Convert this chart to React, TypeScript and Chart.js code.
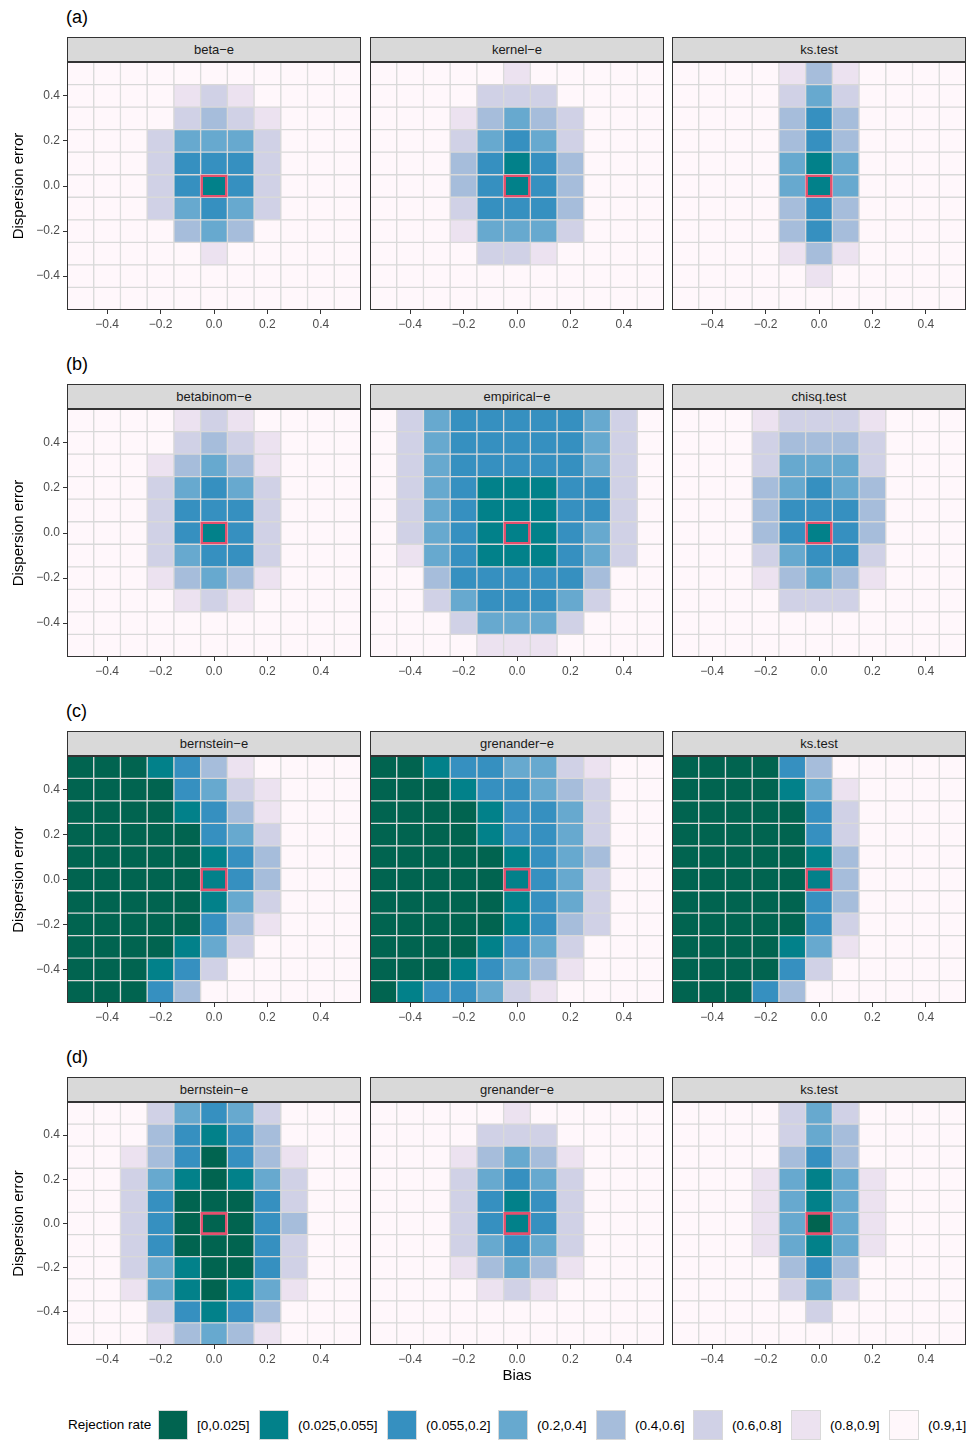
import React, { useEffect, useRef } from "react";
import { Chart, registerables } from "chart.js";

Chart.register(...registerables);

// ---------- data ----------
const BIAS = [-0.5, -0.4, -0.3, -0.2, -0.1, 0, 0.1, 0.2, 0.3, 0.4, 0.5];
// rows of each grid go from top (0.5) to bottom (-0.5)
const DISPERSION = [0.5, 0.4, 0.3, 0.2, 0.1, 0, -0.1, -0.2, -0.3, -0.4, -0.5];
const AXIS_TICKS = [-0.4, -0.2, 0, 0.2, 0.4];
const TRUE_BIAS = [0];
const TRUE_DISPERSION = [0];

const LEVELS = ["[0,0.025]", "(0.025,0.055]", "(0.055,0.2]", "(0.2,0.4]", "(0.4,0.6]", "(0.6,0.8]", "(0.8,0.9]", "(0.9,1]"];
const LEVEL_COLORS = ["#016450", "#02818a", "#3690c0", "#67a9cf", "#a6bddb", "#d0d1e6", "#ece2f0", "#fff7fb"];

const ROW_LABELS = ["(a)", "(b)", "(c)", "(d)"];
const PANEL_TITLES = [
  ["beta\u2212e", "kernel\u2212e", "ks.test"],
  ["betabinom\u2212e", "empirical\u2212e", "chisq.test"],
  ["bernstein\u2212e", "grenander\u2212e", "ks.test"],
  ["bernstein\u2212e", "grenander\u2212e", "ks.test"],
];

// level index per cell (0 = [0,0.025] ... 7 = (0.9,1])
const A_BETA_E = [
  [7, 7, 7, 7, 7, 7, 7, 7, 7, 7, 7],
  [7, 7, 7, 7, 6, 5, 6, 7, 7, 7, 7],
  [7, 7, 7, 7, 5, 4, 5, 6, 7, 7, 7],
  [7, 7, 7, 5, 3, 3, 3, 5, 7, 7, 7],
  [7, 7, 7, 5, 2, 2, 2, 5, 7, 7, 7],
  [7, 7, 7, 5, 2, 1, 2, 5, 7, 7, 7],
  [7, 7, 7, 5, 3, 2, 3, 5, 7, 7, 7],
  [7, 7, 7, 7, 4, 3, 4, 7, 7, 7, 7],
  [7, 7, 7, 7, 7, 6, 7, 7, 7, 7, 7],
  [7, 7, 7, 7, 7, 7, 7, 7, 7, 7, 7],
  [7, 7, 7, 7, 7, 7, 7, 7, 7, 7, 7],
];
const A_KERNEL_E = [
  [7, 7, 7, 7, 7, 6, 7, 7, 7, 7, 7],
  [7, 7, 7, 7, 5, 5, 5, 7, 7, 7, 7],
  [7, 7, 7, 6, 4, 3, 4, 5, 7, 7, 7],
  [7, 7, 7, 5, 3, 2, 3, 5, 7, 7, 7],
  [7, 7, 7, 4, 2, 1, 2, 4, 7, 7, 7],
  [7, 7, 7, 4, 2, 1, 2, 4, 7, 7, 7],
  [7, 7, 7, 5, 2, 2, 2, 4, 7, 7, 7],
  [7, 7, 7, 6, 3, 3, 3, 5, 7, 7, 7],
  [7, 7, 7, 7, 5, 5, 6, 7, 7, 7, 7],
  [7, 7, 7, 7, 7, 7, 7, 7, 7, 7, 7],
  [7, 7, 7, 7, 7, 7, 7, 7, 7, 7, 7],
];
const A_KS_TEST = [
  [7, 7, 7, 7, 6, 4, 6, 7, 7, 7, 7],
  [7, 7, 7, 7, 5, 3, 5, 7, 7, 7, 7],
  [7, 7, 7, 7, 4, 2, 4, 7, 7, 7, 7],
  [7, 7, 7, 7, 4, 2, 4, 7, 7, 7, 7],
  [7, 7, 7, 7, 3, 1, 3, 7, 7, 7, 7],
  [7, 7, 7, 7, 3, 1, 3, 7, 7, 7, 7],
  [7, 7, 7, 7, 4, 2, 4, 7, 7, 7, 7],
  [7, 7, 7, 7, 4, 2, 4, 7, 7, 7, 7],
  [7, 7, 7, 7, 6, 4, 6, 7, 7, 7, 7],
  [7, 7, 7, 7, 7, 6, 7, 7, 7, 7, 7],
  [7, 7, 7, 7, 7, 7, 7, 7, 7, 7, 7],
];
const B_BETABINOM_E = [
  [7, 7, 7, 7, 6, 5, 6, 7, 7, 7, 7],
  [7, 7, 7, 7, 5, 4, 5, 6, 7, 7, 7],
  [7, 7, 7, 6, 4, 3, 4, 6, 7, 7, 7],
  [7, 7, 7, 5, 3, 2, 3, 5, 7, 7, 7],
  [7, 7, 7, 5, 2, 2, 2, 5, 7, 7, 7],
  [7, 7, 7, 5, 2, 1, 2, 5, 7, 7, 7],
  [7, 7, 7, 5, 3, 2, 2, 5, 7, 7, 7],
  [7, 7, 7, 6, 4, 3, 4, 6, 7, 7, 7],
  [7, 7, 7, 7, 6, 5, 6, 7, 7, 7, 7],
  [7, 7, 7, 7, 7, 7, 7, 7, 7, 7, 7],
  [7, 7, 7, 7, 7, 7, 7, 7, 7, 7, 7],
];
const B_EMPIRICAL_E = [
  [7, 5, 3, 2, 2, 2, 2, 2, 3, 5, 7],
  [7, 5, 3, 2, 2, 2, 2, 2, 3, 5, 7],
  [7, 5, 3, 2, 2, 2, 2, 2, 3, 5, 7],
  [7, 5, 3, 2, 1, 1, 1, 2, 2, 5, 7],
  [7, 5, 3, 2, 1, 1, 1, 2, 2, 5, 7],
  [7, 5, 3, 2, 1, 1, 1, 2, 3, 5, 7],
  [7, 6, 3, 2, 1, 1, 1, 2, 3, 5, 7],
  [7, 7, 4, 2, 2, 2, 2, 2, 4, 7, 7],
  [7, 7, 5, 3, 2, 2, 2, 3, 5, 7, 7],
  [7, 7, 7, 5, 3, 3, 3, 5, 7, 7, 7],
  [7, 7, 7, 7, 6, 6, 6, 7, 7, 7, 7],
];
const B_CHISQ_TEST = [
  [7, 7, 7, 6, 5, 5, 5, 6, 7, 7, 7],
  [7, 7, 7, 5, 4, 4, 4, 5, 7, 7, 7],
  [7, 7, 7, 5, 3, 3, 3, 5, 7, 7, 7],
  [7, 7, 7, 4, 3, 2, 3, 4, 7, 7, 7],
  [7, 7, 7, 4, 2, 2, 2, 4, 7, 7, 7],
  [7, 7, 7, 4, 2, 1, 2, 4, 7, 7, 7],
  [7, 7, 7, 5, 3, 2, 2, 5, 7, 7, 7],
  [7, 7, 7, 6, 4, 3, 4, 6, 7, 7, 7],
  [7, 7, 7, 7, 5, 5, 5, 7, 7, 7, 7],
  [7, 7, 7, 7, 7, 7, 7, 7, 7, 7, 7],
  [7, 7, 7, 7, 7, 7, 7, 7, 7, 7, 7],
];
const C_BERNSTEIN_E = [
  [0, 0, 0, 1, 2, 4, 6, 7, 7, 7, 7],
  [0, 0, 0, 0, 2, 3, 5, 6, 7, 7, 7],
  [0, 0, 0, 0, 1, 2, 4, 6, 7, 7, 7],
  [0, 0, 0, 0, 0, 2, 3, 5, 7, 7, 7],
  [0, 0, 0, 0, 0, 1, 2, 4, 7, 7, 7],
  [0, 0, 0, 0, 0, 1, 2, 4, 7, 7, 7],
  [0, 0, 0, 0, 0, 1, 3, 5, 7, 7, 7],
  [0, 0, 0, 0, 0, 2, 4, 6, 7, 7, 7],
  [0, 0, 0, 0, 1, 3, 5, 7, 7, 7, 7],
  [0, 0, 0, 1, 2, 5, 7, 7, 7, 7, 7],
  [0, 0, 0, 2, 4, 7, 7, 7, 7, 7, 7],
];
const C_GRENANDER_E = [
  [0, 0, 1, 2, 2, 3, 3, 5, 6, 7, 7],
  [0, 0, 0, 1, 2, 2, 3, 4, 5, 7, 7],
  [0, 0, 0, 0, 1, 2, 2, 3, 5, 7, 7],
  [0, 0, 0, 0, 1, 2, 2, 3, 5, 7, 7],
  [0, 0, 0, 0, 0, 1, 2, 3, 4, 7, 7],
  [0, 0, 0, 0, 0, 1, 2, 3, 5, 7, 7],
  [0, 0, 0, 0, 0, 1, 2, 3, 5, 7, 7],
  [0, 0, 0, 0, 0, 1, 2, 4, 5, 7, 7],
  [0, 0, 0, 0, 1, 2, 3, 5, 7, 7, 7],
  [0, 0, 0, 1, 2, 3, 4, 6, 7, 7, 7],
  [0, 1, 2, 2, 3, 5, 6, 7, 7, 7, 7],
];
const C_KS_TEST = [
  [0, 0, 0, 0, 2, 4, 7, 7, 7, 7, 7],
  [0, 0, 0, 0, 1, 3, 6, 7, 7, 7, 7],
  [0, 0, 0, 0, 0, 2, 5, 7, 7, 7, 7],
  [0, 0, 0, 0, 0, 2, 5, 7, 7, 7, 7],
  [0, 0, 0, 0, 0, 1, 4, 7, 7, 7, 7],
  [0, 0, 0, 0, 0, 1, 4, 7, 7, 7, 7],
  [0, 0, 0, 0, 0, 2, 4, 7, 7, 7, 7],
  [0, 0, 0, 0, 0, 2, 5, 7, 7, 7, 7],
  [0, 0, 0, 0, 1, 3, 6, 7, 7, 7, 7],
  [0, 0, 0, 0, 2, 5, 7, 7, 7, 7, 7],
  [0, 0, 0, 2, 4, 7, 7, 7, 7, 7, 7],
];
const D_BERNSTEIN_E = [
  [7, 7, 7, 5, 3, 2, 3, 5, 7, 7, 7],
  [7, 7, 7, 4, 2, 1, 2, 4, 7, 7, 7],
  [7, 7, 6, 4, 2, 0, 2, 4, 6, 7, 7],
  [7, 7, 5, 3, 1, 0, 1, 3, 5, 7, 7],
  [7, 7, 5, 2, 0, 0, 0, 2, 5, 7, 7],
  [7, 7, 5, 2, 0, 0, 0, 2, 4, 7, 7],
  [7, 7, 5, 2, 0, 0, 0, 2, 5, 7, 7],
  [7, 7, 5, 3, 1, 0, 0, 2, 5, 7, 7],
  [7, 7, 6, 3, 1, 0, 1, 3, 6, 7, 7],
  [7, 7, 7, 5, 2, 1, 2, 4, 7, 7, 7],
  [7, 7, 7, 6, 4, 3, 4, 6, 7, 7, 7],
];
const D_GRENANDER_E = [
  [7, 7, 7, 7, 7, 6, 7, 7, 7, 7, 7],
  [7, 7, 7, 7, 5, 5, 5, 7, 7, 7, 7],
  [7, 7, 7, 6, 4, 3, 4, 6, 7, 7, 7],
  [7, 7, 7, 5, 3, 2, 3, 5, 7, 7, 7],
  [7, 7, 7, 5, 2, 1, 2, 5, 7, 7, 7],
  [7, 7, 7, 5, 2, 1, 2, 5, 7, 7, 7],
  [7, 7, 7, 5, 3, 2, 3, 5, 7, 7, 7],
  [7, 7, 7, 6, 4, 3, 4, 6, 7, 7, 7],
  [7, 7, 7, 7, 6, 5, 6, 7, 7, 7, 7],
  [7, 7, 7, 7, 7, 7, 7, 7, 7, 7, 7],
  [7, 7, 7, 7, 7, 7, 7, 7, 7, 7, 7],
];
const D_KS_TEST = [
  [7, 7, 7, 7, 5, 3, 5, 7, 7, 7, 7],
  [7, 7, 7, 7, 5, 3, 4, 7, 7, 7, 7],
  [7, 7, 7, 7, 4, 2, 4, 7, 7, 7, 7],
  [7, 7, 7, 6, 3, 1, 3, 6, 7, 7, 7],
  [7, 7, 7, 6, 3, 1, 3, 6, 7, 7, 7],
  [7, 7, 7, 6, 3, 0, 3, 6, 7, 7, 7],
  [7, 7, 7, 6, 3, 1, 3, 6, 7, 7, 7],
  [7, 7, 7, 7, 4, 2, 4, 7, 7, 7, 7],
  [7, 7, 7, 7, 5, 3, 5, 7, 7, 7, 7],
  [7, 7, 7, 7, 7, 5, 7, 7, 7, 7, 7],
  [7, 7, 7, 7, 7, 7, 7, 7, 7, 7, 7],
];

const GRIDS = [
  [A_BETA_E, A_KERNEL_E, A_KS_TEST],
  [B_BETABINOM_E, B_EMPIRICAL_E, B_CHISQ_TEST],
  [C_BERNSTEIN_E, C_GRENANDER_E, C_KS_TEST],
  [D_BERNSTEIN_E, D_GRENANDER_E, D_KS_TEST],
];

// ---------- layout ----------
const FONT = "'Liberation Sans', Arial, Helvetica, sans-serif";
const COL_LEFT = [67, 370, 672];
const PANEL_W = 294;
const ROW_TOP = [62, 409, 756, 1102];
const ROW_H = [248, 248, 247, 243];
const LEGEND_KEY_LEFT = [158, 259, 387, 498, 596, 693, 791, 889];

const fmt = (v: any) => {
  const n = Number(v);
  return (n < 0 ? "\u2212" : "") + Math.abs(n).toFixed(1);
};

const framePlugin = {
  id: "panelFrame",
  afterDatasetsDraw(chart: any) {
    const { ctx, chartArea: a } = chart;
    ctx.save();
    ctx.strokeStyle = "#333333";
    ctx.lineWidth = 1;
    ctx.strokeRect(a.left + 0.5, a.top + 0.5, a.right - a.left - 1, a.bottom - a.top - 1);
    ctx.restore();
  },
};

type PanelProps = {
  grid: number[][];
  left: number;
  top: number;
  width: number;
  height: number;
  showY: boolean;
  xTitle?: string;
};

function HeatPanel({ grid, left, top, width, height, showY, xTitle }: PanelProps) {
  const ref = useRef<HTMLCanvasElement>(null);
  const padL = showY ? 6 : 2;
  const yW = showY ? 61 : 0;
  const padR = 2;
  const padT = 2;
  const xH = xTitle ? 44 : 26;
  const cw = padL + yW + width + padR;
  const ch = padT + height + xH;

  useEffect(() => {
    if (!ref.current) return;
    const half = (BIAS[1] - BIAS[0]) / 2;
    const cells: any[] = [];
    const colors: string[] = [];
    grid.forEach((row, r) =>
      row.forEach((lvl, c) => {
        cells.push({ x: BIAS[c], y: [DISPERSION[r] - half, DISPERSION[r] + half] });
        colors.push(LEVEL_COLORS[lvl]);
      })
    );
    const truth = TRUE_BIAS.map((b, i) => ({ x: b, y: [TRUE_DISPERSION[i] - half, TRUE_DISPERSION[i] + half] }));
    const xMin = BIAS[0] - half;
    const xMax = BIAS[BIAS.length - 1] + half;
    const yMin = DISPERSION[DISPERSION.length - 1] - half;
    const yMax = DISPERSION[0] + half;

    const tickFont = { family: FONT, size: 12 };
    const chart = new Chart(ref.current, {
      type: "bar",
      data: {
        datasets: [
          {
            data: cells,
            backgroundColor: colors,
            borderColor: "#d9d9d9",
            borderWidth: 1,
            borderSkipped: false,
            grouped: false,
            barPercentage: 1,
            categoryPercentage: 1,
            order: 2,
          } as any,
          {
            data: truth,
            backgroundColor: "rgba(0,0,0,0)",
            borderColor: "#e4506e",
            borderWidth: 2,
            borderSkipped: false,
            grouped: false,
            barPercentage: 1,
            categoryPercentage: 1,
            order: 1,
          } as any,
        ],
      },
      options: {
        responsive: false,
        animation: false,
        events: [],
        layout: { padding: { left: padL, right: padR, top: padT, bottom: 0 } },
        plugins: { legend: { display: false }, tooltip: { enabled: false } },
        scales: {
          x: {
            type: "linear",
            min: xMin,
            max: xMax,
            offset: false,
            afterBuildTicks: (s: any) => {
              s.ticks = AXIS_TICKS.map((v) => ({ value: v }));
            },
            afterFit: (s: any) => {
              s.height = xH;
              s.paddingLeft = 0;
              s.paddingRight = 0;
            },
            ticks: { font: tickFont, color: "#4d4d4d", padding: 3, maxRotation: 0, autoSkip: false, callback: fmt },
            grid: { display: true, offset: false, drawOnChartArea: false, drawTicks: true, tickLength: 4, color: "#333333" },
            border: { display: false },
            title: xTitle
              ? { display: true, text: xTitle, font: { family: FONT, size: 15 }, color: "#000000", padding: { top: 4, bottom: 4 } }
              : { display: false },
          },
          y: {
            type: "linear",
            display: showY,
            min: yMin,
            max: yMax,
            afterBuildTicks: (s: any) => {
              s.ticks = AXIS_TICKS.map((v) => ({ value: v }));
            },
            afterFit: (s: any) => {
              s.width = yW;
              s.paddingTop = 0;
              s.paddingBottom = 0;
            },
            ticks: { font: tickFont, color: "#4d4d4d", padding: 3, autoSkip: false, callback: fmt },
            grid: { display: true, offset: false, drawOnChartArea: false, drawTicks: true, tickLength: 4, color: "#333333" },
            border: { display: false },
            title: { display: true, text: "Dispersion error", font: { family: FONT, size: 15 }, color: "#000000", padding: { top: 4, bottom: 4 } },
          },
        },
      } as any,
      plugins: [framePlugin],
    });
    return () => chart.destroy();
  }, [grid, showY, xTitle, width, height]);

  return (
    <canvas
      ref={ref}
      width={cw}
      height={ch}
      style={{ position: "absolute", left: left - padL - yW, top: top - padT, width: cw, height: ch }}
    />
  );
}

function Strip({ text, left, top, width }: { text: string; left: number; top: number; width: number }) {
  return (
    <div
      style={{
        position: "absolute",
        left,
        top: top - 25,
        width,
        height: 25,
        boxSizing: "border-box",
        border: "1px solid #333333",
        background: "#d9d9d9",
        color: "#1a1a1a",
        fontSize: 13,
        fontFamily: FONT,
        display: "flex",
        alignItems: "center",
        justifyContent: "center",
      }}
    >
      {text}
    </div>
  );
}

export default function App() {
  return (
    <div style={{ position: "absolute", left: 0, top: 0, width: 969, height: 1442, background: "#ffffff", fontFamily: FONT, overflow: "hidden" }}>
      {ROW_LABELS.map((lab, r) => (
        <div
          key={"lab" + r}
          style={{ position: "absolute", left: 66, top: ROW_TOP[r] - 56, fontSize: 18, lineHeight: "22px", color: "#000", fontFamily: FONT }}
        >
          {lab}
        </div>
      ))}
      {GRIDS.map((row, r) =>
        row.map((grid, c) => (
          <React.Fragment key={r + "-" + c}>
            <Strip text={PANEL_TITLES[r][c]} left={COL_LEFT[c]} top={ROW_TOP[r]} width={PANEL_W} />
            <HeatPanel
              grid={grid}
              left={COL_LEFT[c]}
              top={ROW_TOP[r]}
              width={PANEL_W}
              height={ROW_H[r]}
              showY={c === 0}
              xTitle={r === 3 && c === 1 ? "Bias" : undefined}
            />
          </React.Fragment>
        ))
      )}
      <div style={{ position: "absolute", left: 68, top: 1410, height: 30, lineHeight: "30px", fontSize: 13.5, color: "#000" }}>
        Rejection rate
      </div>
      {LEVELS.map((lv, i) => (
        <div
          key={lv}
          style={{ position: "absolute", left: LEGEND_KEY_LEFT[i], top: 1410, height: 30, display: "flex", alignItems: "center", fontSize: 13.5, color: "#000", whiteSpace: "nowrap" }}
        >
          <span
            style={{
              display: "inline-block",
              width: 30,
              height: 30,
              boxSizing: "border-box",
              border: "1px solid #d9d9d9",
              background: LEVEL_COLORS[i],
            }}
          />
          <span style={{ marginLeft: 9 }}>{lv}</span>
        </div>
      ))}
    </div>
  );
}
